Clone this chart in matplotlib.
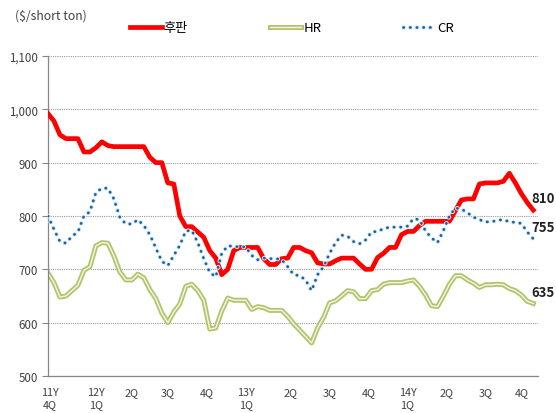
import matplotlib
matplotlib.use("Agg")
import matplotlib.pyplot as plt
import matplotlib.patheffects as pe
from matplotlib.ticker import FuncFormatter

plt.rcParams['font.family'] = ['Noto Sans CJK KR', 'DejaVu Sans']

# weekly index, one reading every 2 weeks
weeks = list(range(0, 164, 2))

plate = [992, 978, 952, 945, 945, 945, 920, 920, 928, 939,
         932, 930, 930, 930, 930, 930, 930, 910, 900, 900,
         862, 860, 800, 780, 780, 770, 760, 735, 721, 690,
         700, 735, 741, 741, 741, 741, 720, 709, 709, 720,
         721, 741, 741, 735, 731, 712, 710, 710, 716, 721,
         721, 721, 710, 700, 700, 722, 730, 741, 741, 765,
         771, 771, 782, 790, 790, 790, 790, 790, 810, 830,
         832, 832, 860, 862, 862, 862, 865, 880, 862, 842,
         825, 811]

hr = [693, 675, 648, 650, 660, 670, 698, 705, 744, 750,
      749, 725, 695, 680, 680, 691, 684, 662, 645, 618,
      600, 620, 635, 668, 672, 660, 642, 588, 590, 622,
      646, 642, 642, 642, 625, 630, 628, 623, 623, 623,
      612, 598, 586, 574, 562, 590, 610, 637, 641, 650,
      660, 658, 645, 645, 660, 662, 672, 675, 675, 675,
      678, 680, 668, 652, 632, 630, 650, 672, 688, 688,
      680, 674, 666, 671, 671, 672, 671, 664, 660, 652,
      640, 636]

cr = [800, 775, 752, 749, 762, 770, 800, 808, 844, 852,
      852, 832, 797, 785, 785, 793, 782, 765, 740, 715,
      707, 726, 745, 772, 773, 750, 720, 694, 686, 730,
      744, 743, 742, 742, 726, 718, 721, 720, 720, 718,
      705, 690, 688, 680, 660, 690, 705, 730, 750, 764,
      762, 752, 748, 755, 770, 771, 776, 779, 779, 779,
      781, 795, 793, 772, 759, 750, 773, 800, 815, 813,
      806, 798, 793, 789, 789, 792, 793, 789, 788, 786,
      770, 757]

end_labels = ["810", "755", "635"]

tick_pos = [0.7, 16, 28, 40, 53, 66, 81, 94, 107, 120, 133, 146, 158]
tick_labels = ["11Y\n4Q", "12Y\n1Q", "2Q", "3Q", "4Q", "13Y\n1Q", "2Q", "3Q",
               "4Q", "14Y\n1Q", "2Q", "3Q", "4Q"]

fig = plt.figure(figsize=(5.56, 4.14), dpi=100)
ax = fig.add_axes([0.0863, 0.0894, 0.881, 0.773])

l1, = ax.plot(weeks, plate, color='#FF0000', lw=3.4, label='후판',
              solid_joinstyle='round', zorder=3)
l2, = ax.plot(weeks, hr, color='#F2F6E4', lw=1.0, label='HR', zorder=2,
              path_effects=[pe.Stroke(linewidth=3.6, foreground='#B3C46E'), pe.Normal()])
l3, = ax.plot(weeks, cr, color='#1F5F9E', lw=2.0, label='CR', zorder=4,
              linestyle=(0, (0.1, 2.3)), dash_capstyle='round',
              path_effects=[pe.Stroke(linewidth=3.4, foreground='#D3ECF8'), pe.Normal()])

# end value labels
for series, txt in zip([plate, cr, hr], end_labels):
    ax.annotate(txt, (weeks[-1], series[-1]), xytext=(-1.5, 8.5),
                textcoords='offset points', ha='left', va='center',
                fontsize=9.5, fontweight='bold', color='#222222',
                annotation_clip=False)

ax.set_xlim(0, 163.5)
ax.set_ylim(500, 1100)
ax.set_yticks(range(500, 1101, 100))
ax.yaxis.set_major_formatter(FuncFormatter(lambda v, p: f"{int(v):,}"))
ax.set_xticks(tick_pos)
ax.set_xticklabels(tick_labels, fontsize=7.8, color='#404040', linespacing=1.25)
ax.tick_params(axis='x', length=0, pad=8)
ax.tick_params(axis='y', length=4, color='#868686', labelsize=8.3,
               labelcolor='#404040', pad=3)

ax.yaxis.grid(True, linestyle=(0, (1, 1)), color='#9A9A9A', lw=0.8)
ax.set_axisbelow(True)
for s in ['top', 'right']:
    ax.spines[s].set_visible(False)
for s in ['left', 'bottom']:
    ax.spines[s].set_color('#868686')
    ax.spines[s].set_linewidth(0.9)

fig.text(0.027, 0.962, "($/short ton)", fontsize=8.8, color='#404040',
         ha='left', va='center')

fig.legend(handles=[l1, l2, l3], loc='center left', bbox_to_anchor=(0.234, 0.93),
           ncol=3, frameon=False, fontsize=9.5, handlelength=2.4, borderpad=0,
           borderaxespad=0, handletextpad=0.15, columnspacing=6.2)

plt.savefig("out.png", dpi=100)
